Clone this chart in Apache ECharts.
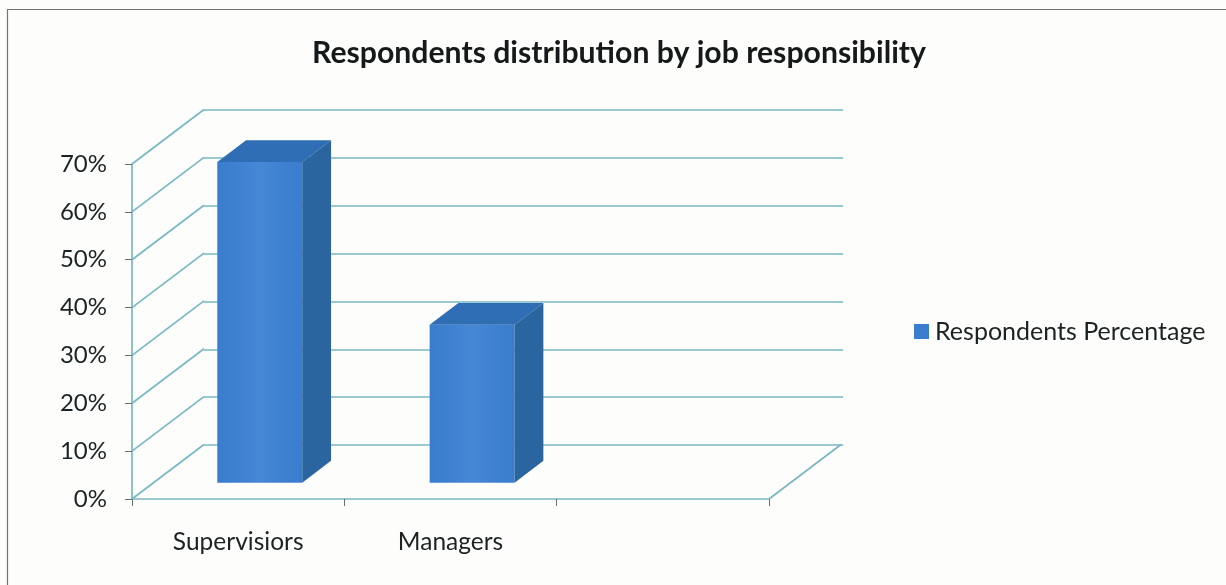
<!DOCTYPE html>
<html>
<head>
<meta charset="utf-8">
<style>html,body{margin:0;padding:0;background:#fdfdfb}#c{width:1226px;height:585px}</style>
<script src="https://cdn.jsdelivr.net/npm/echarts@6/dist/echarts.min.js"></script>
</head>
<body>
<div id="c"></div>
<script>
const titleText = 'Respondents distribution by job responsibility';
const categories = ['Supervisiors', 'Managers', ''];
const seriesName = 'Respondents Percentage';
const respondents = [67, 33];
const gridTicks = [0, 10, 20, 30, 40, 50, 60, 70];

const WALL_DX = 72, WALL_DY = 54.5;   // perspective shift from front plane to back wall
const GRID_COLOR = '#7ab7c5';
const FONT = 'Lato, "Open Sans", sans-serif';
const TEXT = '#1b2224';

const chart = echarts.init(document.getElementById('c'));

function barItem(params, api) {
  const cat = api.value(0), val = api.value(1);
  const base = api.coord([cat, 0]);
  const top = api.coord([cat, val]);
  const band = api.size([1, 0])[0];
  const w = band * 0.4;
  const fx = WALL_DX * 0.3, fy = WALL_DY * 0.3;
  const dx = WALL_DX * 0.4, dy = WALL_DY * 0.4;
  const x0 = base[0] - w / 2 + fx, x1 = x0 + w;
  const yb = base[1] - fy, yt = top[1] - fy;
  return {
    type: 'group',
    children: [
      { type: 'rect', shape: { x: x0, y: yt, width: w, height: yb - yt },
        style: { fill: new echarts.graphic.LinearGradient(0, 0, 1, 0, [
          { offset: 0, color: '#3a7ccd' }, { offset: 0.5, color: '#4688d6' }, { offset: 1, color: '#3a7ccd' }]) } },
      { type: 'polygon', shape: { points: [[x0, yt], [x1, yt], [x1 + dx, yt - dy], [x0 + dx, yt - dy]] },
        style: { fill: '#2f6db4' } },
      { type: 'polygon', shape: { points: [[x1, yt], [x1 + dx, yt - dy], [x1 + dx, yb - dy], [x1, yb]] },
        style: { fill: '#2a659f' } }
    ]
  };
}

function diagonalItem(params, api) {
  const p = api.coord([api.value(0), api.value(1)]);
  const x = p[0] + api.value(2) * api.size([1, 0])[0];
  return { type: 'line', shape: { x1: x, y1: p[1], x2: x + WALL_DX, y2: p[1] - WALL_DY },
    style: { stroke: GRID_COLOR, lineWidth: 1.7 } };
}

chart.setOption({
  animation: false,
  backgroundColor: '#fdfdfb',
  title: {
    text: titleText, left: 614, top: 33, textAlign: 'center',
    textStyle: { fontFamily: FONT, fontSize: 30.2, fontWeight: 'bold', color: '#15191a' }
  },
  legend: {
    data: [seriesName], left: 909, top: 314, icon: 'rect', itemWidth: 15, itemHeight: 15, itemGap: 0,
    textStyle: { fontFamily: FONT, fontSize: 25, color: TEXT, padding: [0, 0, 0, 1] }
  },
  graphic: [{
    type: 'rect', silent: true, z: -1,
    shape: { x: 7.5, y: 9.5, width: 1400, height: 800 },
    style: { fill: 'none', stroke: '#6f7476', lineWidth: 1.2 }
  }],
  grid: [
    { left: 132, top: 164, width: 637, height: 335 },
    { left: 204, top: 110, width: 639, height: 335 }
  ],
  xAxis: [
    { type: 'category', gridIndex: 0, data: categories,
      axisLine: { lineStyle: { color: GRID_COLOR, width: 1.7 } },
      axisTick: { show: true, length: 7, alignWithLabel: false, lineStyle: { color: '#6a7072' } },
      axisLabel: { fontFamily: FONT, fontSize: 24.5, color: TEXT, margin: 31, interval: 0 } },
    { type: 'category', gridIndex: 1, data: categories, show: false }
  ],
  yAxis: [
    { type: 'value', gridIndex: 0, min: 0, max: 70, interval: 10,
      axisLine: { show: true, lineStyle: { color: GRID_COLOR, width: 1.7 } },
      axisTick: { show: true, length: 7, lineStyle: { color: '#6a7072' } },
      splitLine: { show: false },
      axisLabel: { fontFamily: FONT, fontSize: 24, color: TEXT, margin: 25, formatter: '{value}%' } },
    { type: 'value', gridIndex: 1, min: 0, max: 70, interval: 10,
      axisLine: { show: false }, axisTick: { show: false }, axisLabel: { show: false },
      splitLine: { show: true, lineStyle: { color: GRID_COLOR, width: 1.7 } } }
  ],
  series: [
    { type: 'custom', name: 'leftWall', xAxisIndex: 0, yAxisIndex: 0, z: 1, silent: true,
      coordinateSystem: 'cartesian2d', renderItem: diagonalItem,
      encode: { x: 0, y: 1 },
      data: gridTicks.map(t => [0, t, -0.5]) },
    { type: 'custom', name: 'floorEdge', xAxisIndex: 0, yAxisIndex: 0, z: 1, silent: true,
      coordinateSystem: 'cartesian2d', renderItem: diagonalItem,
      encode: { x: 0, y: 1 },
      data: [[2, 0, 0.5]] },
    { type: 'custom', name: seriesName, xAxisIndex: 0, yAxisIndex: 0, z: 5,
      coordinateSystem: 'cartesian2d', renderItem: barItem,
      encode: { x: 0, y: 1 },
      itemStyle: { color: '#3a7ccd' },
      data: respondents.map((v, i) => [i, v]) }
  ]
});
</script>
</body>
</html>
